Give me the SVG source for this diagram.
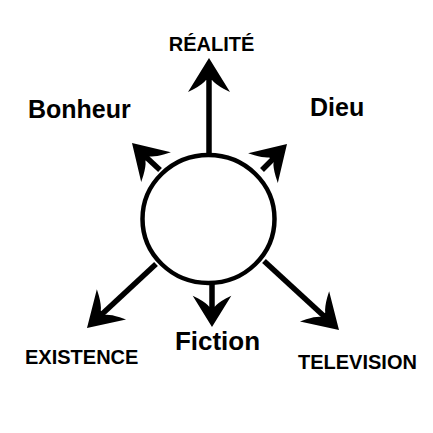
<svg xmlns="http://www.w3.org/2000/svg" xmlns:xlink="http://www.w3.org/1999/xlink" width="433" height="433" viewBox="0 0 433 433">
<style>
.lbl{font-family:"Liberation Sans",Arial,sans-serif;font-weight:bold;fill:#000}
.shaft{stroke:#000;stroke-width:5.5;fill:none;stroke-linecap:butt}
.head{fill:#000}
</style>
<defs>
<path id="head" d="M0 0 L-34 -21 L-31 -15 Q-26 -6 -22 -3 L-22 3 Q-26 6 -31 15 L-34 21 Z"/>
</defs>
<rect width="433" height="433" fill="#fff"/>
<g id="connectors">
<line class="shaft" x1="209" y1="156" x2="209" y2="75"/>
<use href="#head" class="head" transform="translate(209 58) rotate(-90)"/>
<line class="shaft" x1="160" y1="170" x2="146" y2="157"/>
<use href="#head" class="head" transform="translate(132 143) rotate(-135)"/>
<line class="shaft" x1="262" y1="170" x2="274" y2="158"/>
<use href="#head" class="head" transform="translate(287 144) rotate(-45)"/>
<line class="shaft" x1="156" y1="264" x2="100" y2="316"/>
<use href="#head" class="head" transform="translate(87 328) rotate(136)"/>
<line class="shaft" x1="264" y1="261" x2="326" y2="318"/>
<use href="#head" class="head" transform="translate(339 330) rotate(44)"/>
<line class="shaft" x1="212" y1="284" x2="212" y2="310"/>
<use href="#head" class="head" transform="translate(212 327) rotate(90) scale(0.92)"/>
</g>
<g id="circle">
<ellipse cx="208.5" cy="219" rx="66" ry="64" fill="#fff" stroke="#000" stroke-width="4.5"/>
</g>
<g id="realite"><text class="lbl" x="211.5" y="51" font-size="20" text-anchor="middle">RÉALITÉ</text></g>
<g id="bonheur"><text class="lbl" x="28" y="118" font-size="25">Bonheur</text></g>
<g id="dieu"><text class="lbl" x="310" y="116" font-size="25">Dieu</text></g>
<g id="fiction"><text class="lbl" x="217.5" y="350" font-size="26" text-anchor="middle">Fiction</text></g>
<g id="existence"><text class="lbl" x="25" y="364" font-size="20">EXISTENCE</text></g>
<g id="television"><text class="lbl" x="298" y="369" font-size="20">TELEVISION</text></g>
</svg>
